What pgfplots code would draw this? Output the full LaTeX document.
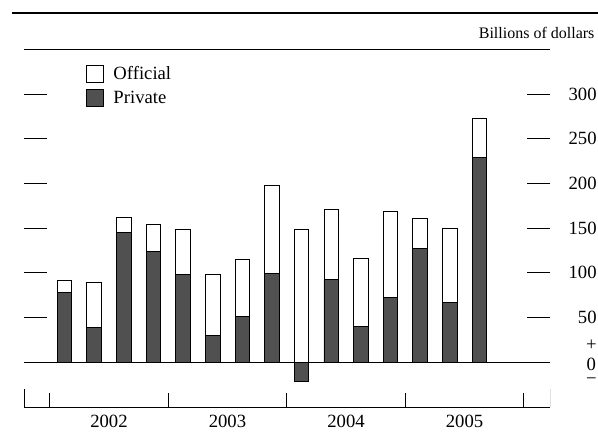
\documentclass[border=0pt]{standalone}
\usepackage{fontspec}
\setmainfont{Liberation Serif}
\usepackage{pgfplots}
\pgfplotsset{compat=1.18}
\definecolor{privfill}{RGB}{80,80,80}
% the "+ 0 -" label at zero, 0 centred on the tick
\newcommand\zerolab{\raisebox{-16.6pt}[0pt][0pt]{\fontsize{14}{10.4}\selectfont\renewcommand\arraystretch{1}%
  \begin{tabular}[b]{@{}c@{}}+\\[2.5pt]0\\−\end{tabular}}}

\begin{document}
\begin{tikzpicture}[x=1pt,y=1pt]
\useasboundingbox (0,0) rectangle (448.5,325.5);
\draw[line width=2.2pt] (9,315.75) -- (448.5,315.75);
\node[anchor=base east, inner sep=0pt, font=\fontsize{12}{14}\selectfont] at (446,296.25) {Billions of dollars};
\begin{axis}[
    at={(18pt,20.25pt)}, anchor=south west,
    scale only axis, width=394.5pt, height=268.5pt,
    xmin=-1.367, xmax=16.385, ymin=-50.1, ymax=350.5,
    ybar, bar width=0.49, bar shift=0pt,
    separate axis lines,
    y axis line style={draw=none},
    x axis line style={line width=0.6pt},
    tick align=inside,
    tick style={black, line width=0.6pt},
    major tick length=17.5pt,
    ytick={0,50,...,300},
    yticklabels={\zerolab,50,100,150,200,250,300},
    yticklabel pos=right,
    ytick pos=both,
    yticklabel style={anchor=east, xshift=38.5pt, font=\fontsize{14}{16}\selectfont},
    xtick pos=bottom,
    xtick={1.5,5.5,9.5,13.5},
    xticklabels={2002,2003,2004,2005},
    major x tick style={draw=none},
    minor xtick={-0.5,3.5,7.5,11.5,15.5},
    minor tick length=10.5pt,
    xticklabel style={anchor=base, yshift=-15.75pt, font=\fontsize{14}{16}\selectfont},
    extra y ticks={0},
    extra y tick labels={},
    extra y tick style={grid=major, major grid style={black, line width=0.6pt}},
    legend cell align=left,
    legend style={draw=none, fill=none, at={(axis description cs:0.118,0.96)},
        anchor=north west, inner sep=0pt, row sep=3pt, column sep=5pt,
        font=\fontsize{14}{16}\selectfont},
    legend image code/.code={\draw[#1] (0pt,-6.4pt) rectangle (12.75pt,6.4pt);},
]

% white bar = top of the column (official on top of private)
\addplot[fill=white, draw=black, line width=0.6pt] coordinates {
    (0,91.8) (1,89.6) (2,161.9) (3,154.1)
    (4,148.5) (5,97.8) (6,114.9) (7,198.2)
    (8,148.5) (9,170.5) (10,116.0) (11,168.3)
    (12,161.3) (13,150.0) (14,272.5)
};
\addlegendentry{Official}

% private
\addplot[fill=privfill, draw=black, line width=0.6pt] coordinates {
    (0,78.4) (1,38.7) (2,145.1) (3,123.9)
    (4,98.1) (5,30.2) (6,51.1) (7,99.7)
    (8,-21.3) (9,92.5) (10,40.3) (11,72.8)
    (12,126.9) (13,67.2) (14,228.8)
};
\addlegendentry{Private}

% taller end ticks on the date axis
\draw[line width=0.6pt] (rel axis cs:0,0) -- ++(0pt,13.5pt);
\draw[line width=0.6pt] (rel axis cs:1,0) -- ++(0pt,13.5pt);
\end{axis}
\end{tikzpicture}
\end{document}
